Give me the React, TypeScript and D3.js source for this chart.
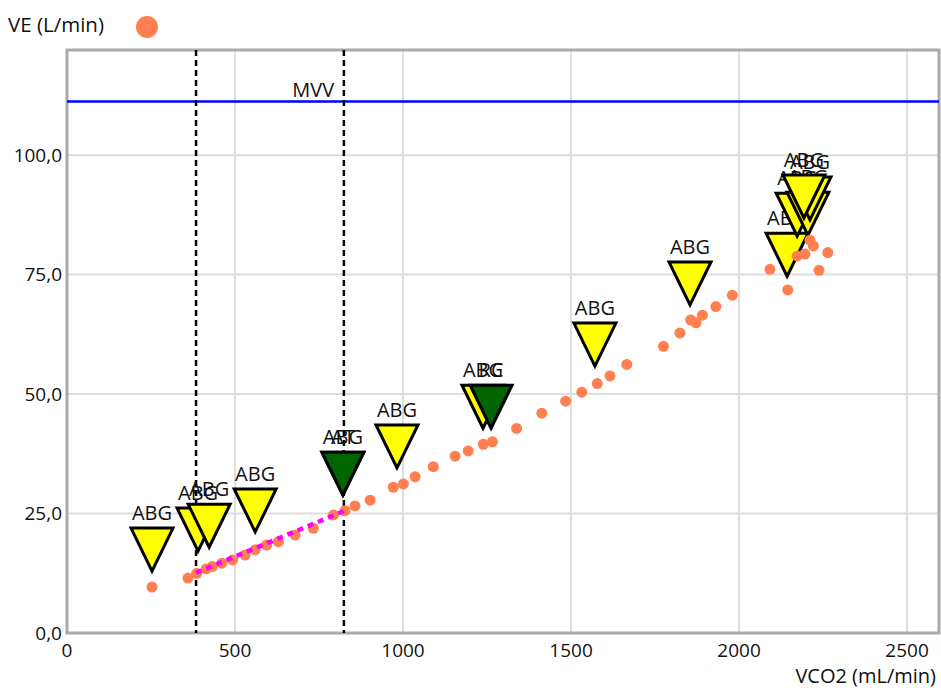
import React from "react";
import * as d3 from "d3";

// Breath-by-breath ventilation vs CO2 output
const vco2 = [253, 360, 386, 414, 432, 461, 493, 530, 560, 594, 629, 679, 733, 793, 827, 857, 902, 971, 1001, 1036, 1090, 1155, 1194, 1239, 1266, 1338, 1413, 1484, 1532, 1578, 1616, 1666, 1775, 1824, 1856, 1872, 1891, 1931, 1980, 2092, 2145, 2173, 2196, 2211, 2221, 2238, 2264];
const ve = [9.6, 11.5, 12.5, 13.4, 13.9, 14.6, 15.3, 16.3, 17.4, 18.4, 19.1, 20.5, 21.9, 24.7, 25.6, 26.6, 27.8, 30.5, 31.2, 32.7, 34.8, 37.0, 38.1, 39.5, 40.0, 42.8, 46.0, 48.5, 50.4, 52.2, 53.8, 56.2, 60.0, 62.8, 65.5, 64.9, 66.5, 68.3, 70.7, 76.1, 71.8, 78.9, 79.3, 82.2, 81.0, 75.9, 79.6];

// Arterial blood gas samples
const abgVco2 = [253, 390, 423, 560, 821, 982, 1238, 1571, 1854, 2143, 2173, 2205, 2211, 2193];
const abgVe = [9.6, 13.8, 14.6, 17.8, 25.5, 31.2, 39.5, 52.5, 65.3, 71.3, 79.7, 79.9, 83.1, 83.5];

// Threshold events
const eventLabels = ["AT", "RC"];
const eventVco2 = [821, 1262];
const eventVe = [25.5, 39.5];

// Threshold lines and VE/VCO2 slope segment
const thresholdVco2 = [384, 824];
const slopeVco2 = [384, 824];
const slopeVe = [12.6, 25.5];

const mvv = 111.2;

const xTicks = [0, 500, 1000, 1500, 2000, 2500];
const yTicks = [0, 25, 50, 75, 100];

const W = 941;
const H = 688;
const FONT = "'Open Sans', sans-serif";
const TEXT = "#111";

const locale = d3.formatLocale({ decimal: ",", thousands: ".", grouping: [3], currency: ["", ""] });
const fmtY = locale.format(".1f");

export default function App() {
  const x = d3.scaleLinear().domain([0, 2595]).range([67, 939]);
  const y = d3.scaleLinear().domain([0, 122]).range([633, 50]);
  const [x0, x1] = x.range();
  const [yb, yt] = y.range();

  // marker tip sits a little above the sample it refers to
  const tipGap = 16;
  const triW = 21;
  const triH = 43;
  const tri = (cx: number, tipY: number) =>
    `M${cx - triW},${tipY - triH}L${cx + triW},${tipY - triH}L${cx},${tipY}Z`;

  const line = d3.line<number>().x((d) => x(slopeVco2[d])).y((d) => y(slopeVe[d]));

  return (
    <svg width={W} height={H} style={{ position: "absolute", left: 0, top: 0, background: "#fff" }} fontFamily={FONT}>
      {/* legend */}
      <text x={8} y={32} fontSize={20.5} fill={TEXT}>VE (L/min)</text>
      <circle cx={147} cy={27} r={11} fill="#FF7F50" />

      {/* grid */}
      {xTicks.filter((t) => t > 0).map((t) => (
        <line key={"gx" + t} x1={x(t)} x2={x(t)} y1={yt} y2={yb} stroke="#DDD" strokeWidth={2} />
      ))}
      {yTicks.filter((t) => t > 0).map((t) => (
        <line key={"gy" + t} x1={x0} x2={x1} y1={y(t)} y2={y(t)} stroke="#DDD" strokeWidth={2} />
      ))}

      {/* frame */}
      <rect x={x0} y={yt} width={x1 - x0} height={yb - yt} fill="none" stroke="#AAA" strokeWidth={3} />

      {/* tick labels */}
      {yTicks.map((t) => (
        <text key={"ty" + t} x={62} y={y(t)} dy="0.35em" textAnchor="end" fontSize={19} fill={TEXT}>
          {fmtY(t)}
        </text>
      ))}
      {xTicks.map((t) => (
        <text key={"tx" + t} x={x(t)} y={657} textAnchor="middle" fontSize={19} fill={TEXT}>
          {t}
        </text>
      ))}
      <text x={936} y={683} textAnchor="end" fontSize={20} fill={TEXT}>VCO2 (mL/min)</text>

      {/* MVV */}
      <line x1={x0} x2={x1} y1={y(mvv)} y2={y(mvv)} stroke="#0000FF" strokeWidth={2.5} />
      <text x={x(795)} y={y(mvv) - 5} textAnchor="end" fontSize={20} fill={TEXT}>MVV</text>

      {/* threshold lines */}
      {thresholdVco2.map((v, i) => (
        <line key={"th" + i} x1={x(v)} x2={x(v)} y1={yt} y2={yb} stroke="#000" strokeWidth={2.5} strokeDasharray="6,4" />
      ))}

      {/* ABG markers */}
      {abgVco2.map((v, i) => {
        const cx = x(v);
        const tip = y(abgVe[i]) - tipGap;
        return (
          <g key={"abg" + i}>
            <path d={tri(cx, tip)} fill="#FFFF00" stroke="#000" strokeWidth={3} strokeLinejoin="miter" strokeMiterlimit={10} />
            <text x={cx} y={tip - triH - 8} textAnchor="middle" fontSize={20} fill={TEXT}>ABG</text>
          </g>
        );
      })}

      {/* event markers */}
      {eventVco2.map((v, i) => {
        const cx = x(v);
        const tip = y(eventVe[i]) - tipGap;
        return (
          <g key={"ev" + i}>
            <path d={tri(cx, tip)} fill="#006400" stroke="#000" strokeWidth={3} strokeLinejoin="miter" strokeMiterlimit={10} />
            <text x={cx} y={tip - triH - 8} textAnchor="middle" fontSize={20} fill={TEXT}>{eventLabels[i]}</text>
          </g>
        );
      })}

      {/* data points */}
      {vco2.map((v, i) => (
        <circle key={"p" + i} cx={x(v)} cy={y(ve[i])} r={5.5} fill="#FF7F50" />
      ))}

      {/* VE/VCO2 slope */}
      <path d={line([0, 1]) || ""} stroke="#FF00FF" strokeWidth={4.5} strokeDasharray="6,5" fill="none" />
    </svg>
  );
}
